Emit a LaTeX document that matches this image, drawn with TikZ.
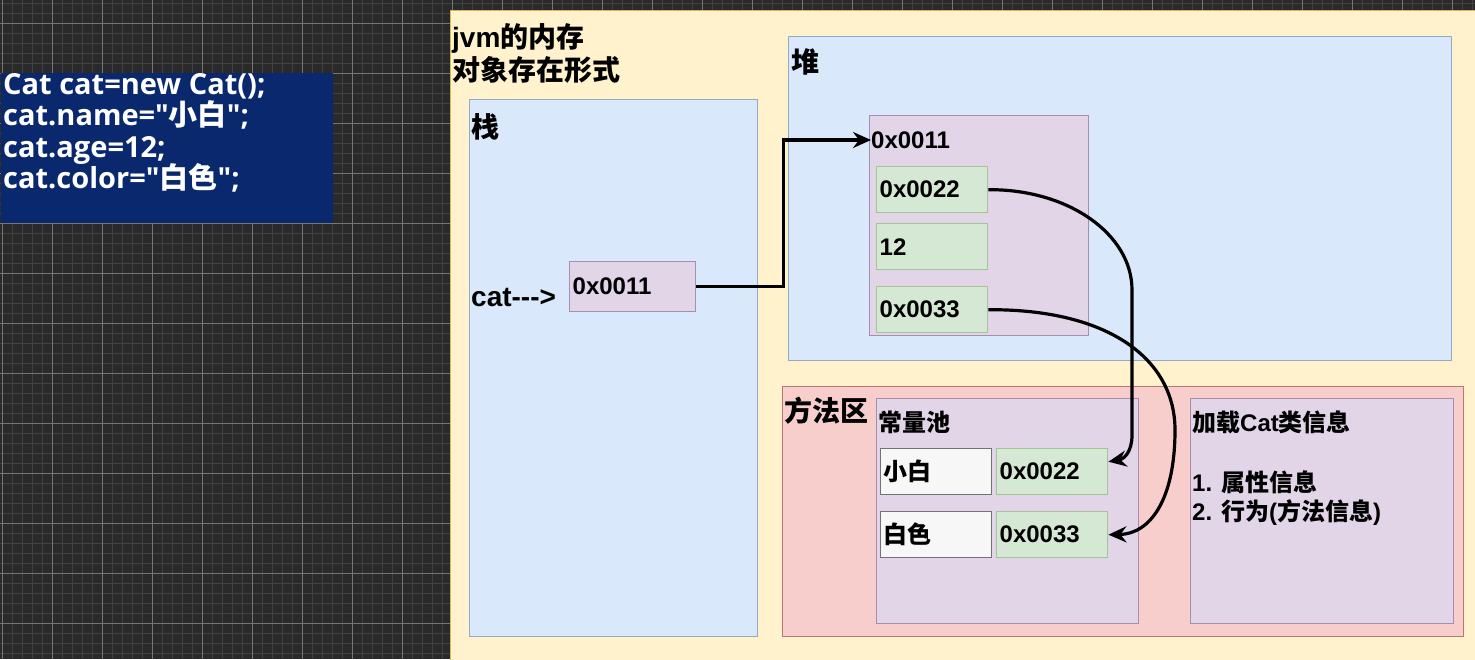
\documentclass[tikz,border=0pt]{standalone}
\usepackage{fontspec}
\newfontfamily\latin{Liberation Sans}
\newfontfamily\cjk{Noto Sans CJK SC}
\newfontfamily\codefont{Open Sans}
\newcommand{\zh}[1]{{\cjk #1}}
\usetikzlibrary{arrows.meta}

\definecolor{gridbg}{RGB}{42,42,42}
\definecolor{gridminor}{RGB}{66,66,66}
\definecolor{gridmajor}{RGB}{118,118,118}
\definecolor{codebg}{RGB}{10,40,110}
\definecolor{jvmfill}{HTML}{FFF2CC}
\definecolor{jvmline}{HTML}{D6B656}
\definecolor{bluefill}{HTML}{DAE8FC}
\definecolor{blueline}{HTML}{94A8C8}
\definecolor{purplefill}{HTML}{E1D5E7}
\definecolor{purpleline}{HTML}{A48FB0}
\definecolor{greenfill}{HTML}{D5E8D4}
\definecolor{greenline}{HTML}{A3C496}
\definecolor{redfill}{HTML}{F8CECC}
\definecolor{redline}{HTML}{BC7672}
\definecolor{strfill}{HTML}{F7F7F7}

\tikzset{
  area/.style={draw, line width=1.4pt, anchor=north west, inner sep=0pt},
  cell/.style={area, minimum height=46, text width=105, inner xsep=3pt, align=left,
    font=\latin\bfseries\fontsize{24}{28}\selectfont},
  heapcell/.style={cell, draw=greenline, fill=greenfill},
  strcell/.style={cell, draw=black!55, fill=strfill},
  title/.style={anchor=west, inner sep=0pt, font=\latin\bfseries\fontsize{28}{33}\selectfont},
  note/.style={anchor=base west, inner sep=0pt, font=\latin\bfseries\fontsize{24}{28}\selectfont},
  codeline/.style={anchor=base west, inner sep=0pt, text=white,
    font=\codefont\bfseries\fontsize{29}{32}\selectfont},
  ptr/.style={line width=3.2pt, -{Stealth[length=18pt, width=16pt, inset=6pt]}},
}

\begin{document}
\begin{tikzpicture}[x=1pt, y=-1pt]
  \clip (0,0) rectangle (1475,659);

  % dark grid canvas
  \fill[gridbg] (0,0) rectangle (1475,659);
  \foreach \x in {2,12,...,1472} \draw[gridminor, line width=0.9pt] (\x,0) -- (\x,659);
  \foreach \y in {3,13,...,653} \draw[gridminor, line width=0.9pt] (0,\y) -- (1475,\y);
  \foreach \x in {2,52,...,1452} \draw[gridmajor, line width=0.9pt] (\x,0) -- (\x,659);
  \foreach \y in {23,73,...,623} \draw[gridmajor, line width=0.9pt] (0,\y) -- (1475,\y);

  % source code
  \node[area, draw=none, fill=codebg, minimum width=332, minimum height=150] (code) at (0,72) {};
  \node[codeline] (code1) at (3,94) {Cat cat=new Cat();};
  \node[codeline] (code2) at (3,125) {cat.name="\zh{小白}";};
  \node[codeline] (code3) at (3,157) {cat.age=12;};
  \node[codeline] (code4) at (3,188) {cat.color="\zh{白色}";};

  % jvm memory
  \node[area, draw=jvmline, fill=jvmfill, line width=1pt, minimum width=1040, minimum height=660] (jvm) at (450,10) {};
  \node[title, anchor=base west] (jvm1) at (452,47) {jvm\zh{的内存}};
  \node[title, anchor=base west] (jvm2) at (452,80) {\zh{对象存在形式}};

  % stack
  \node[area, draw=blueline, fill=bluefill, minimum width=288, minimum height=537] (stack) at (469,99) {};
  \node[title] (stacklbl) at (471,127) {\zh{栈}};
  \node[title] (catlbl) at (471,297) {cat-\kern0pt-\kern0pt->};
  \node[cell, draw=purpleline, fill=purplefill, minimum height=50, text width=120] (sref) at (569,261) {0x0011};

  % heap
  \node[area, draw=blueline, fill=bluefill, minimum width=663, minimum height=324] (heap) at (788,36) {};
  \node[title] (heaplbl) at (791,62) {\zh{堆}};
  \node[area, draw=purpleline, fill=purplefill, minimum width=219, minimum height=220] (obj) at (869,115) {};
  \node[note, anchor=west] (objaddr) at (871,140) {0x0011};
  \node[heapcell] (hf22) at (876,166) {0x0022};
  \node[heapcell] (hf12) at (876,223) {12};
  \node[heapcell] (hf33) at (876,286) {0x0033};

  % method area
  \node[area, draw=redline, fill=redfill, minimum width=681, minimum height=250] (method) at (782,386) {};
  \node[title] (methodlbl) at (784,411) {\zh{方法区}};
  \node[area, draw=purpleline, fill=purplefill, minimum width=262, minimum height=225] (pool) at (876,398) {};
  \node[note, anchor=west] (poollbl) at (878,422) {\zh{常量池}};
  \node[strcell] (ps22) at (880,448) {\zh{小白}};
  \node[heapcell] (pf22) at (996,448) {0x0022};
  \node[strcell] (ps33) at (880,511) {\zh{白色}};
  \node[heapcell] (pf33) at (996,511) {0x0033};
  \node[area, draw=purpleline, fill=purplefill, minimum width=263, minimum height=225] (cls) at (1190,398) {};
  \node[note] (cls1) at (1192,431) {\zh{加载}Cat\zh{类信息}};
  \node[note] (cls2) at (1192,491) {1. \zh{属性信息}};
  \node[note] (cls3) at (1192,520) {2. \zh{行为}(\zh{方法信息})};

  % references
  \draw[ptr] (sref.east) -- ++(87,0) |- (objaddr.west);
  \draw[ptr] (hf22.east) .. controls (1068,189) and (1132,234) .. (1132,290)
    -- (1132,435) .. controls (1132,452) and (1124,459) .. ([yshift=10pt]pf22.east);
  \draw[ptr] (hf33.east) .. controls (1110,309) and (1175,360) .. (1175,430)
    .. controls (1175,500) and (1150,534) .. (pf33.east);
\end{tikzpicture}
\end{document}
